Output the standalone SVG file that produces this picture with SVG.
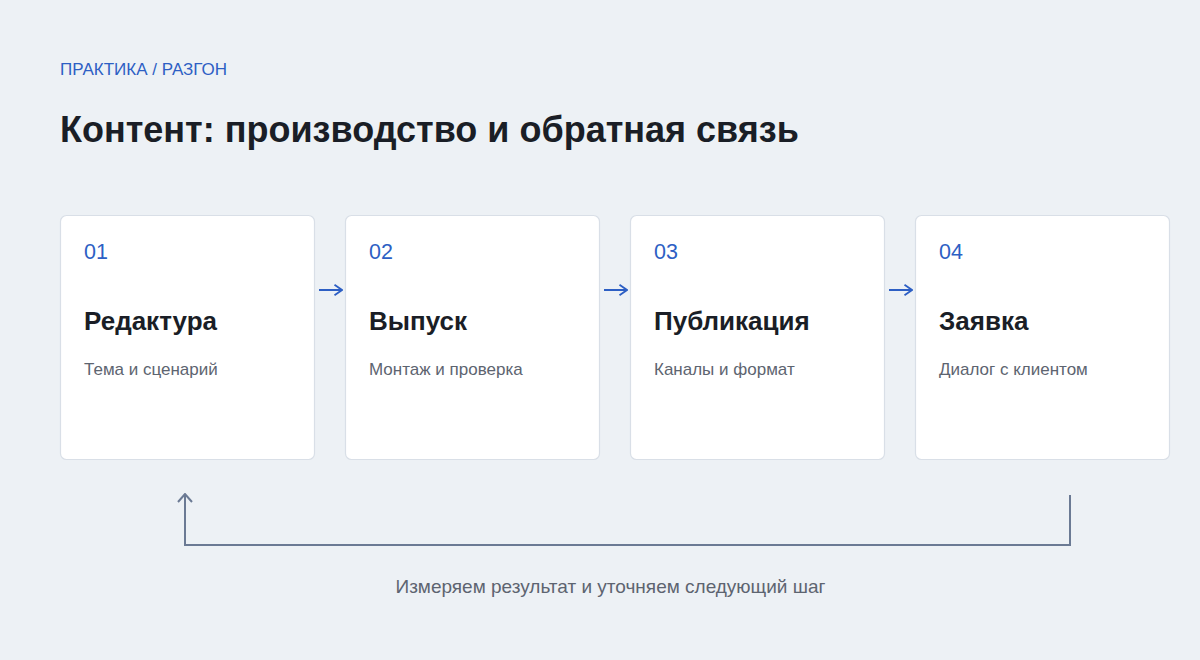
<svg xmlns="http://www.w3.org/2000/svg" width="1200" height="660" viewBox="0 0 1200 660">
<defs>
<style>
.card{fill:#ffffff;stroke:#d9dfe7;stroke-width:1.2}
.num{font-family:"Liberation Sans",Arial,sans-serif;font-size:21.5px;fill:#2d5fc4}
.title{font-family:"Liberation Sans",Arial,sans-serif;font-size:26px;font-weight:bold;fill:#1a1e26}
.sub{font-family:"Liberation Sans",Arial,sans-serif;font-size:17px;fill:#5d6470}
.flow{stroke:#2d5fc4;stroke-width:2;fill:none}
.fb{stroke:#6b7a94;stroke-width:2;fill:none}
</style>
<marker id="ah" viewBox="0 0 12 12" refX="11" refY="6" markerWidth="12" markerHeight="12" markerUnits="userSpaceOnUse" orient="auto">
<path d="M3.5,0.8 L11,6 L3.5,11.2" fill="none" stroke="#2d5fc4" stroke-width="1.8"/>
</marker>
<marker id="ahg" viewBox="0 0 16 16" refX="15" refY="8" markerWidth="16" markerHeight="16" markerUnits="userSpaceOnUse" orient="auto">
<path d="M7,1 L15,8 L7,15" fill="none" stroke="#6b7a94" stroke-width="2"/>
</marker>
</defs>
<rect width="1200" height="660" fill="#edf1f5"/>
<text x="60" y="75" font-family="Liberation Sans,Arial,sans-serif" font-size="17" fill="#2d5fc4">ПРАКТИКА / РАЗГОН</text>
<text x="60" y="142" font-family="Liberation Sans,Arial,sans-serif" font-size="36" font-weight="bold" fill="#1a1e26">Контент: производство и обратная связь</text>
<g id="node1">
<rect class="card" x="60.5" y="215.5" width="254" height="244" rx="6"/>
<text class="num" x="84" y="259">01</text>
<text class="title" x="84" y="330">Редактура</text>
<text class="sub" x="84" y="375">Тема и сценарий</text>
</g>
<g id="node2">
<rect class="card" x="345.5" y="215.5" width="254" height="244" rx="6"/>
<text class="num" x="369" y="259">02</text>
<text class="title" x="369" y="330">Выпуск</text>
<text class="sub" x="369" y="375">Монтаж и проверка</text>
</g>
<g id="node3">
<rect class="card" x="630.5" y="215.5" width="254" height="244" rx="6"/>
<text class="num" x="654" y="259">03</text>
<text class="title" x="654" y="330">Публикация</text>
<text class="sub" x="654" y="375">Каналы и формат</text>
</g>
<g id="node4">
<rect class="card" x="915.5" y="215.5" width="254" height="244" rx="6"/>
<text class="num" x="939" y="259">04</text>
<text class="title" x="939" y="330">Заявка</text>
<text class="sub" x="939" y="375">Диалог с клиентом</text>
</g>
<g id="connectors">
<line class="flow" x1="319" y1="290" x2="342" y2="290" marker-end="url(#ah)"/>
<line class="flow" x1="604" y1="290" x2="627" y2="290" marker-end="url(#ah)"/>
<line class="flow" x1="889" y1="290" x2="912" y2="290" marker-end="url(#ah)"/>
<path class="fb" d="M1070,495 L1070,545 L185,545 L185,494" marker-end="url(#ahg)"/>
</g>
<text x="610.5" y="593" text-anchor="middle" font-family="Liberation Sans,Arial,sans-serif" font-size="19" fill="#5d6470">Измеряем результат и уточняем следующий шаг</text>
</svg>
